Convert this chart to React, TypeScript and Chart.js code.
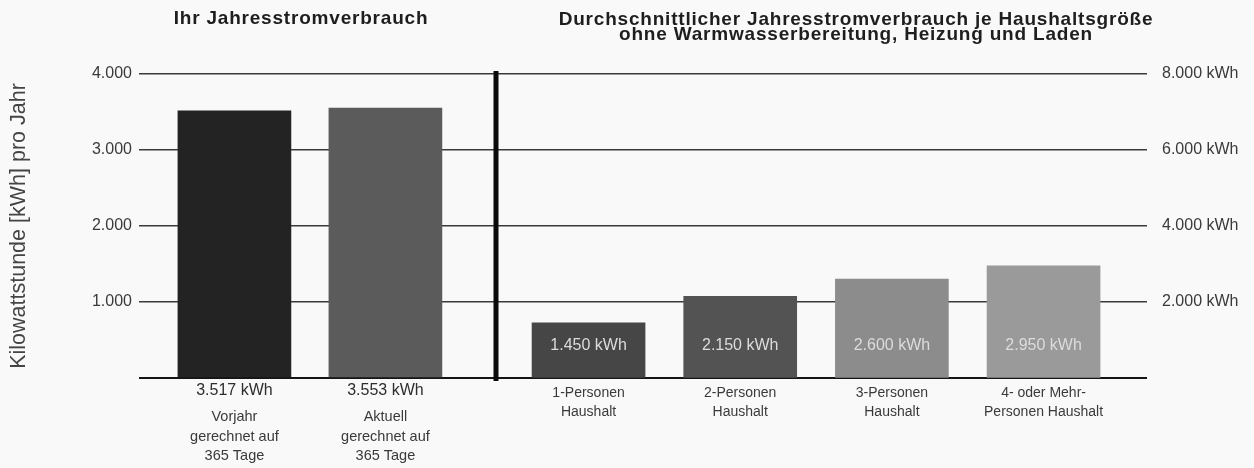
import React, { useEffect, useRef } from "react";
import { Chart, registerables } from "chart.js";

Chart.register(...registerables);

// ---- data ----
const ownCategories = [
  ["Vorjahr", "gerechnet auf", "365 Tage"],
  ["Aktuell", "gerechnet auf", "365 Tage"],
];
const ownValues = [3517, 3553];
const ownColors = ["#232323", "#5b5b5b"];

const householdCategories = [
  ["1-Personen", "Haushalt"],
  ["2-Personen", "Haushalt"],
  ["3-Personen", "Haushalt"],
  ["4- oder Mehr-", "Personen Haushalt"],
];
const householdValues = [1450, 2150, 2600, 2950];
const householdColors = ["#464646", "#535353", "#8c8c8c", "#9a9a9a"];

const leftTickLabels = ["", "1.000", "2.000", "3.000", "4.000"];
const rightTickLabels = ["", "2.000 kWh", "4.000 kWh", "6.000 kWh", "8.000 kWh"];

const leftTitle = "Ihr Jahresstromverbrauch";
const rightTitle = [
  "Durchschnittlicher Jahresstromverbrauch je Haushaltsgröße",
  "ohne Warmwasserbereitung, Heizung und Laden",
];
const yAxisTitle = "Kilowattstunde [kWh] pro Jahr";
const unit = "kWh";

const FONT = "'Liberation Sans', Arial, Helvetica, sans-serif";

function fmt(n: number): string {
  return String(n).replace(/\B(?=(\d{3})+(?!\d))/g, ".");
}

const textPlugin = {
  id: "texts",
  afterDatasetsDraw(chart: any) {
    const ctx = chart.ctx as CanvasRenderingContext2D;
    const xL = chart.scales.xL;
    const xR = chart.scales.xR;
    const area = chart.chartArea;
    ctx.save();

    // separator bar
    const sx = xR.getPixelForValue(-0.61);
    ctx.fillStyle = "#0b0b0b";
    ctx.fillRect(Math.round(sx) - 2.5, area.top - 3, 5, area.bottom - area.top + 6);

    // values inside household bars
    ctx.textAlign = "center";
    ctx.textBaseline = "middle";
    ctx.font = `16px ${FONT}`;
    ctx.fillStyle = "#dcdcdc";
    householdValues.forEach((v, i) => {
      ctx.fillText(`${fmt(v)} ${unit}`, xR.getPixelForValue(i), area.bottom - 32);
    });

    // own values below bars
    ctx.fillStyle = "#2e2e2e";
    ctx.font = `16px ${FONT}`;
    ownValues.forEach((v, i) => {
      ctx.fillText(`${fmt(v)} ${unit}`, xL.getPixelForValue(i), area.bottom + 13);
    });

    // own categories
    ctx.font = `14.5px ${FONT}`;
    ctx.fillStyle = "#3a3a3a";
    ownCategories.forEach((lines, i) => {
      lines.forEach((t, j) => {
        ctx.fillText(t, xL.getPixelForValue(i), area.bottom + 39 + j * 19.5);
      });
    });

    // household categories
    ctx.font = `14px ${FONT}`;
    householdCategories.forEach((lines, i) => {
      lines.forEach((t, j) => {
        ctx.fillText(t, xR.getPixelForValue(i), area.bottom + 15 + j * 19);
      });
    });

    // titles
    ctx.fillStyle = "#1e1e1e";
    ctx.font = `bold 19px ${FONT}`;
    (ctx as any).letterSpacing = "0.8px";
    ctx.fillText(leftTitle, 301, 19);
    rightTitle.forEach((t, j) => {
      ctx.fillText(t, 856, 20 + j * 15);
    });
    ctx.restore();
  },
};

export default function App() {
  const ref = useRef<HTMLCanvasElement | null>(null);

  useEffect(() => {
    document.body.style.margin = "0";
    const canvas = ref.current;
    if (!canvas) return;
    const chart = new Chart(canvas, {
      type: "bar",
      data: {
        datasets: [
          {
            label: "own",
            data: ownValues.map((v, i) => ({ x: i, y: v })),
            backgroundColor: ownColors,
            xAxisID: "xL",
            yAxisID: "yL",
            barThickness: 113,
            grouped: false,
          } as any,
          {
            label: "household",
            data: householdValues.map((v, i) => ({ x: i, y: v })),
            backgroundColor: householdColors,
            xAxisID: "xR",
            yAxisID: "yR",
            barThickness: 113,
            grouped: false,
          } as any,
        ],
      },
      plugins: [textPlugin],
      options: {
        animation: false,
        responsive: false,
        maintainAspectRatio: false,
        layout: { padding: { top: 74, bottom: 90, left: 0, right: 0 } },
        plugins: {
          legend: { display: false },
          tooltip: { enabled: false },
          title: { display: false },
        },
        scales: {
          xL: {
            type: "linear",
            display: false,
            offset: false,
            min: -0.632,
            max: 6.044,
          },
          xR: {
            type: "linear",
            display: false,
            offset: false,
            min: -2.964,
            max: 3.682,
          },
          yL: {
            type: "linear",
            position: "left",
            min: 0,
            max: 4000,
            ticks: {
              stepSize: 1000,
              padding: 7,
              color: "#3a3a3a",
              font: { family: FONT, size: 16 },
              callback: (_v: any, i: number) => leftTickLabels[i],
            },
            grid: {
              drawTicks: false,
              color: (c: any) => (c.tick && c.tick.value === 0 ? "#151515" : "#3a3a3a"),
              lineWidth: (c: any) => (c.tick && c.tick.value === 0 ? 2 : 1.5),
            },
            border: { display: false },
            title: {
              display: true,
              text: yAxisTitle,
              color: "#444444",
              font: { family: FONT, size: 21.5 },
              padding: { top: 6, bottom: 0 },
            },
            afterFit: (s: any) => {
              s.width = 139;
            },
          },
          yR: {
            type: "linear",
            position: "right",
            min: 0,
            max: 8000,
            ticks: {
              stepSize: 2000,
              padding: 15,
              color: "#3a3a3a",
              font: { family: FONT, size: 16 },
              callback: (_v: any, i: number) => rightTickLabels[i],
            },
            grid: { drawOnChartArea: false, drawTicks: false },
            border: { display: false },
            afterFit: (s: any) => {
              s.width = 107;
            },
          },
        },
      } as any,
    });
    return () => chart.destroy();
  }, []);

  return (
    <div style={{ width: 1254, height: 468, background: "#f9f9fa" }}>
      <canvas ref={ref} width={1254} height={468} style={{ display: "block" }} />
    </div>
  );
}
